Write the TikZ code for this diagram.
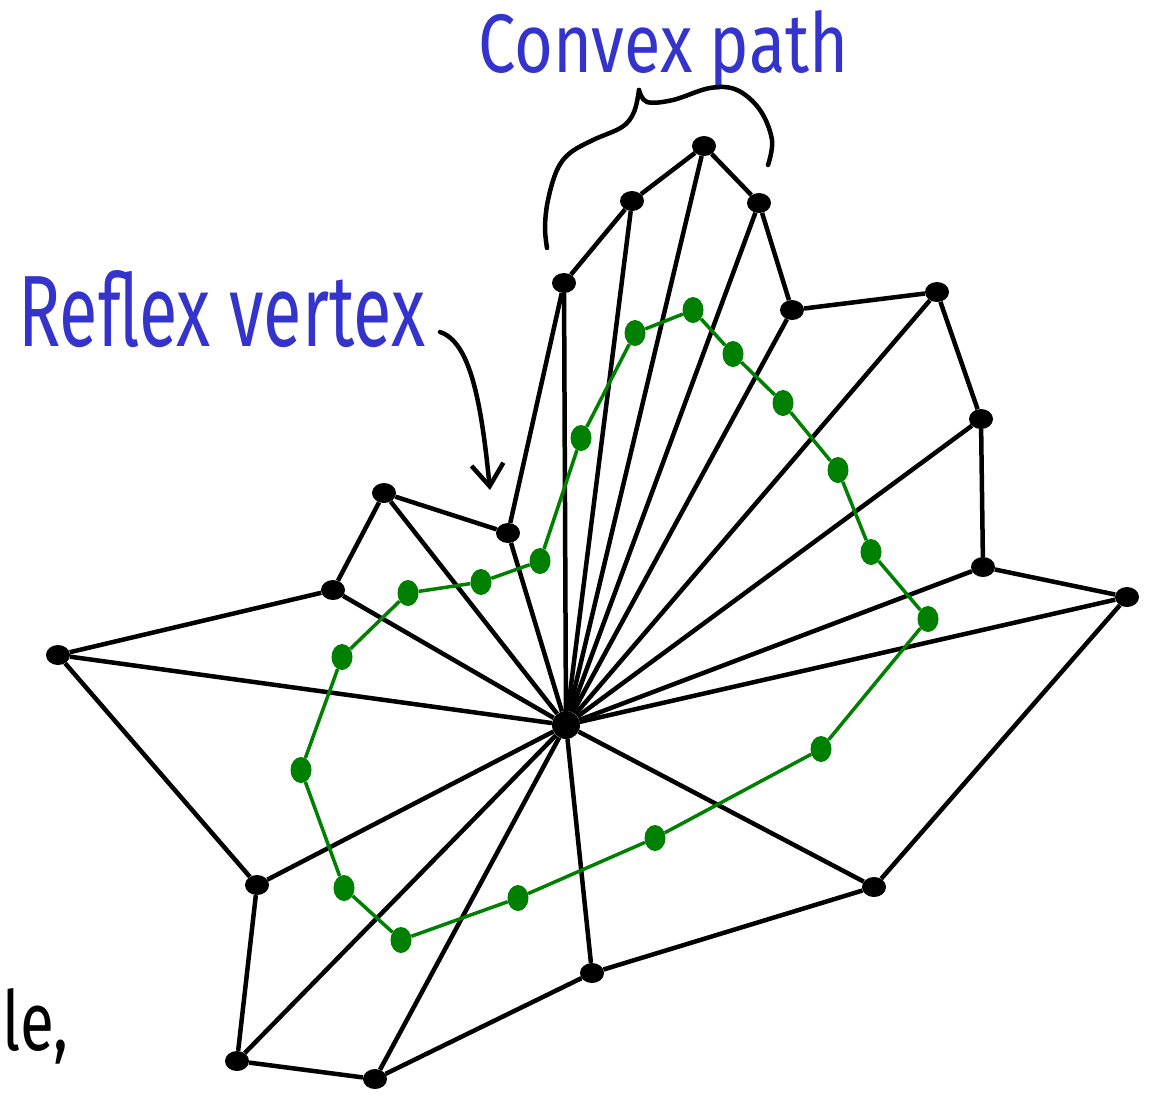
\documentclass[tikz,border=0pt]{standalone}
\usepackage{fontspec}
\newfontfamily\hand{Fira Sans}
\usetikzlibrary{arrows.meta,shapes.geometric}
\definecolor{inkblue}{RGB}{52,52,204}
\definecolor{inkgreen}{RGB}{0,128,0}
\begin{document}
\begin{tikzpicture}[x=1pt,y=-1pt,
  bdot/.style={ellipse,fill=black,inner sep=0pt,minimum width=24pt,minimum height=20pt},
  cdot/.style={circle,fill=black,inner sep=0pt,minimum size=28pt},
  gdot/.style={ellipse,fill=inkgreen,inner sep=0pt,minimum width=21pt,minimum height=26pt},
  blk/.style={line width=4.5pt,black},
  gline/.style={line width=3.5pt,inkgreen},
  ink/.style={line width=4.5pt,black,line cap=round,line join=round},
  handtext/.style={inner sep=0pt,anchor=base west}]
\useasboundingbox (0,0) rectangle (1151,1096);
% black vertices
\node[cdot] (c) at (566,725) {};
\node[bdot] (v1) at (237,1061) {};
\node[bdot] (v2) at (375,1079) {};
\node[bdot] (v3) at (592,973) {};
\node[bdot] (v4) at (874,887) {};
\node[bdot] (v5) at (1127,597) {};
\node[bdot] (v6) at (983,567) {};
\node[bdot] (v7) at (981,419) {};
\node[bdot] (v8) at (937,292) {};
\node[bdot] (v9) at (792,310) {};
\node[bdot] (v10) at (759,203) {};
\node[bdot] (v11) at (704,146) {};
\node[bdot] (v12) at (632,201) {};
\node[bdot] (v13) at (564,283) {};
\node[bdot] (v14) at (508,533) {};
\node[bdot] (v15) at (384,493) {};
\node[bdot] (v16) at (333,590) {};
\node[bdot] (v17) at (58,655) {};
\node[bdot] (v18) at (257,885) {};
% spokes
\foreach \i in {1,...,18} \draw[blk] (c) -- (v\i);
% boundary
\foreach \i [evaluate=\i as \j using {int(mod(\i,18)+1)}] in {1,...,18}
  \draw[blk] (v\i) -- (v\j);
% green vertices
\node[gdot] (g1) at (401,940) {};
\node[gdot] (g2) at (518,898) {};
\node[gdot] (g3) at (655,838) {};
\node[gdot] (g4) at (821,749) {};
\node[gdot] (g5) at (928,619) {};
\node[gdot] (g6) at (871,552) {};
\node[gdot] (g7) at (838,470) {};
\node[gdot] (g8) at (783,403) {};
\node[gdot] (g9) at (733,354) {};
\node[gdot] (g10) at (693,310) {};
\node[gdot] (g11) at (635,333) {};
\node[gdot] (g12) at (581,438) {};
\node[gdot] (g13) at (540,561) {};
\node[gdot] (g14) at (481,582) {};
\node[gdot] (g15) at (408,593) {};
\node[gdot] (g16) at (342,657) {};
\node[gdot] (g17) at (301,770) {};
\node[gdot] (g18) at (344,888) {};
\foreach \i [evaluate=\i as \j using {int(mod(\i,18)+1)}] in {1,...,18}
  \draw[gline] (g\i) -- (g\j);
% labels
\node[handtext,text=inkblue] (convex) at (478,72) {\resizebox{370pt}{62pt}{\hand Convex path}};
\node[handtext,text=inkblue] (reflex) at (18,346) {\resizebox{407pt}{76pt}{\hand Reflex vertex}};
\node[handtext,text=black] (le) at (2,1050) {\resizebox{66pt}{62pt}{\hand le,}};
% brace
\draw[ink] plot[smooth,tension=0.6] coordinates {(547,248) (545,227) (548,200) (557,170) (570,153) (593,140) (622,127) (634,112) (639,90)};
\draw[ink] plot[smooth,tension=0.6] coordinates {(639,90) (647,102) (673,100) (710,88) (737,90) (760,110) (772,140) (768,165)};
% arrow
\coordinate (arrS) at (440,332);
\coordinate (arrE) at (490,490);
\draw[ink,-{Straight Barb[length=22pt,width=32pt,line width=4.5pt]}] (arrS) .. controls (470,342) and (481,400) .. (arrE);
\end{tikzpicture}
\end{document}
